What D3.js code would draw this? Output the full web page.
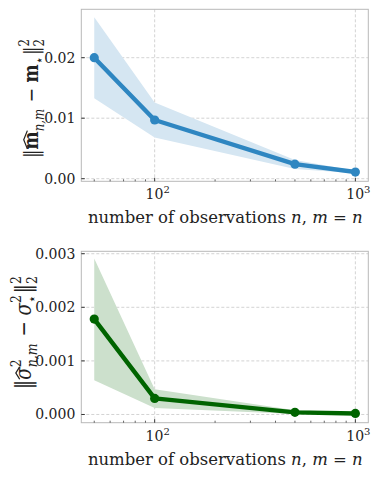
<!DOCTYPE html>
<html>
<head>
<meta charset="utf-8">
<script src="https://cdn.jsdelivr.net/npm/d3@7"></script>
<style>
  body { margin: 0; background: #fff; }
  text { white-space: pre; }
</style>
</head>
<body>
<div id="chart"></div>
<script>
(function() {
  var w = 378,
      h = 477;
  var FONT = "DejaVu Serif, Liberation Serif, serif";

  // data
  var nObs = [50, 100, 500, 1000];
  var meanErr = [0.0200, 0.0097, 0.0024, 0.0011];
  var meanLo  = [0.0133, 0.0068, 0.0016, 0.0009];
  var meanHi  = [0.0267, 0.0126, 0.0031, 0.0013];
  var varErr = [0.00178, 0.00030, 0.00004, 0.00002];
  var varLo  = [0.00064, 0.00012, 0.00001, 0.00001];
  var varHi  = [0.00291, 0.00047, 0.00008, 0.00004];
  var meanTicks = [0, 0.01, 0.02];
  var varTicks = [0, 0.001, 0.002, 0.003];
  var xMajor = [100, 1000];
  var xMinor = [50, 60, 70, 80, 90, 200, 300, 400, 500, 600, 700, 800, 900];

  var svg = d3.select("#chart")
    .append("svg")
    .attr("width", w)
    .attr("height", h)
    .style("display", "block")

  var left = 81.3, right = 368.3

  var x = d3.scaleLog().domain([43.1, 1160]).range([left, right])

  // lays out a little formula along x, pieces: {t, it, bold, hat} or {sup, sub}
  function mathLabel(g, pieces, size, target) {
    var inner = g.append("g")
    var pos = 0
    function piece(t, px, py, sz, it, bold) {
      var el = inner.append("text")
        .attr("x", px).attr("y", py)
        .attr("font-family", FONT).attr("font-size", sz).attr("fill", "#222")
        .attr("font-style", it ? "italic" : null)
        .attr("font-weight", bold ? "bold" : null)
        .text(t)
      return el.node().getComputedTextLength()
    }
    pieces.forEach(function(p) {
      if (p.sup !== undefined) {
        var a = piece(p.sup, pos, -0.42 * size, 0.68 * size, p.supIt)
        var b = piece(p.sub, pos, 0.3 * size, 0.68 * size, p.subIt)
        pos += Math.max(a, b) + 1
      } else {
        var wd = piece(p.t, pos, 0, size, p.it, p.bold)
        if (p.hat) {
          var yTop = -p.hat * size
          inner.append("path")
            .attr("d", "M" + (pos + 0.5) + "," + (yTop + 2.2) + "L" + (pos + wd / 2 + 0.5) + "," + (yTop - 0.8) +
                  "L" + (pos + wd + 0.5) + "," + (yTop + 2.2))
            .attr("fill", "none").attr("stroke", "#222").attr("stroke-width", 1)
        }
        pos += wd
      }
    })
    var k = target / pos
    inner.attr("transform", "scale(" + k + "," + (k * 1.2) + ") translate(" + (-pos / 2) + ",0)")
  }

  function panel(opt) {
    var y = d3.scaleLinear().domain(opt.domain).range([opt.bottom, opt.top])
    var g = svg.append("g")

    // grid
    g.selectAll(".gx").data(xMajor).enter().append("line")
      .attr("x1", function(d) { return x(d) }).attr("x2", function(d) { return x(d) })
      .attr("y1", opt.top).attr("y2", opt.bottom)
      .attr("stroke", "#c8c8c8").attr("stroke-width", 0.8).attr("stroke-dasharray", "3,2")
    g.selectAll(".gy").data(opt.ticks).enter().append("line")
      .attr("x1", left).attr("x2", right)
      .attr("y1", function(d) { return y(d) }).attr("y2", function(d) { return y(d) })
      .attr("stroke", "#c8c8c8").attr("stroke-width", 0.8).attr("stroke-dasharray", "3,2")

    var pts = nObs.map(function(n, i) {
      return { n: n, v: opt.mean[i], lo: opt.lo[i], hi: opt.hi[i] }
    })

    // band
    g.append("path").datum(pts)
      .attr("fill", opt.fill)
      .attr("d", d3.area()
        .x(function(d) { return x(d.n) })
        .y0(function(d) { return y(d.lo) })
        .y1(function(d) { return y(d.hi) }))

    g.append("path").datum(pts)
      .attr("fill", "none").attr("stroke", opt.color).attr("stroke-width", 4.4)
      .attr("stroke-linejoin", "round")
      .attr("d", d3.line().x(function(d) { return x(d.n) }).y(function(d) { return y(d.v) }))

    g.selectAll(".dot").data(pts).enter().append("circle")
      .attr("cx", function(d) { return x(d.n) }).attr("cy", function(d) { return y(d.v) })
      .attr("r", 4.6).attr("fill", opt.color)

    // spines
    g.append("rect")
      .attr("x", left).attr("y", opt.top)
      .attr("width", right - left).attr("height", opt.bottom - opt.top)
      .attr("fill", "none").attr("stroke", "#b8b8b8").attr("stroke-width", 1)

    // ticks, pointing inward
    g.selectAll(".ty").data(opt.ticks).enter().append("line")
      .attr("x1", left).attr("x2", left + 3.5)
      .attr("y1", function(d) { return y(d) }).attr("y2", function(d) { return y(d) })
      .attr("stroke", "#222").attr("stroke-width", 0.9)
    g.selectAll(".tyl").data(opt.ticks).enter().append("text")
      .attr("x", left - 6).attr("y", function(d) { return y(d) + 5 })
      .attr("text-anchor", "end").attr("font-family", FONT).attr("font-size", 14).attr("fill", "#222")
      .text(function(d) { return d3.format(opt.fmt)(d) })

    g.selectAll(".tx").data(xMajor).enter().append("line")
      .attr("x1", function(d) { return x(d) }).attr("x2", function(d) { return x(d) })
      .attr("y1", opt.bottom).attr("y2", opt.bottom - 3.5)
      .attr("stroke", "#222").attr("stroke-width", 0.9)
    g.selectAll(".tm").data(xMinor).enter().append("line")
      .attr("x1", function(d) { return x(d) }).attr("x2", function(d) { return x(d) })
      .attr("y1", opt.bottom).attr("y2", opt.bottom - 2)
      .attr("stroke", "#222").attr("stroke-width", 0.7)

    var xl = g.selectAll(".txl").data(xMajor).enter().append("text")
      .attr("x", function(d) { return x(d) + 3 }).attr("y", opt.bottom + 18)
      .attr("text-anchor", "middle").attr("font-family", FONT).attr("font-size", 14).attr("fill", "#222")
    xl.append("tspan").text("10")
    xl.append("tspan").attr("font-size", 10).attr("dy", -6)
      .text(function(d) { return Math.round(Math.log10(d)) })

    // x label
    var xt = g.append("text")
      .attr("x", (left + right) / 2 + 0.5).attr("y", opt.bottom + 42)
      .attr("text-anchor", "middle").attr("font-family", FONT).attr("font-size", 17).attr("fill", "#222")
    xt.append("tspan").text("number of observations ")
    xt.append("tspan").attr("font-style", "italic").text("n")
    xt.append("tspan").text(", ")
    xt.append("tspan").attr("font-style", "italic").text("m")
    xt.append("tspan").text(" = ")
    xt.append("tspan").attr("font-style", "italic").text("n")
    var len = xt.node().getComputedTextLength()
    xt.attr("font-size", 17 * 275 / len)

    // y label
    var yt = g.append("g")
      .attr("transform", "translate(" + opt.labelX + "," + opt.labelY + ") rotate(-90)")
    mathLabel(yt, opt.label, 17, opt.labelLen)
  }

  panel({
    top: 9.3, bottom: 181.3, domain: [-0.00043, 0.028],
    mean: meanErr, lo: meanLo, hi: meanHi, ticks: meanTicks, fmt: ".2f",
    color: "#2e86c1", fill: "#d5e6f2", labelX: 37.5, labelY: 98, labelLen: 120,
    label: [
      { t: "\u2016" },
      { t: "m", bold: true, hat: 0.62 },
      { sup: "", sub: "n,m", subIt: true },
      { t: " \u2212 " },
      { t: "m", bold: true },
      { sup: "", sub: "\u22c6" },
      { t: "\u2016" },
      { sup: "2", sub: "2" }
    ]
  })

  panel({
    top: 251.3, bottom: 422.7, domain: [-0.000153, 0.003045],
    mean: varErr, lo: varLo, hi: varHi, ticks: varTicks, fmt: ".3f",
    color: "#006400", fill: "#cce0cc", labelX: 30.5, labelY: 332, labelLen: 114,
    label: [
      { t: "\u2016" },
      { t: "\u03c3", it: true, hat: 0.62 },
      { sup: "2", sub: "n,m", subIt: true },
      { t: " \u2212 " },
      { t: "\u03c3", it: true },
      { sup: "2", sub: "\u22c6" },
      { t: "\u2016" },
      { sup: "2", sub: "2" }
    ]
  })

})();
</script>
</body>
</html>
